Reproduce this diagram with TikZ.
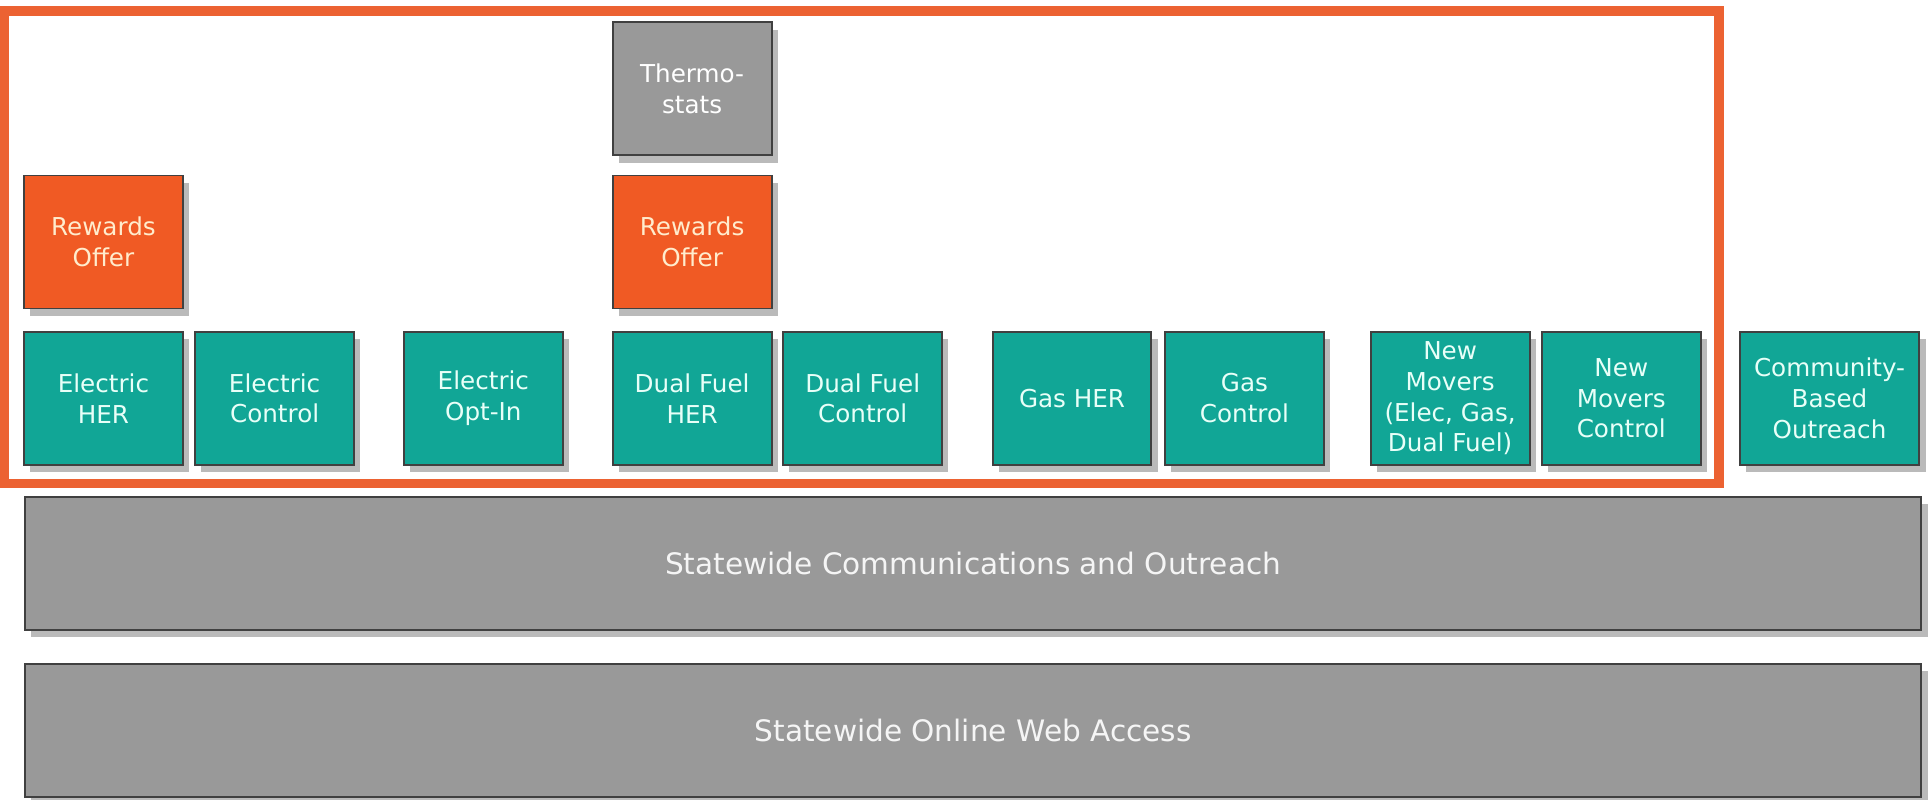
\documentclass[tikz,border=0pt]{standalone}
\usepackage{fontspec}
\setmainfont{DejaVu Sans}
\usetikzlibrary{shadows}
\definecolor{tealc}{RGB}{17,166,150}
\definecolor{rewardc}{RGB}{240,90,36}
\definecolor{framec}{RGB}{236,98,50}
\definecolor{grayc}{RGB}{153,153,153}
\definecolor{tealtext}{RGB}{232,255,248}
\definecolor{rewardtext}{RGB}{255,236,205}
\begin{document}
\begin{tikzpicture}[x=1pt,y=-1pt,
  box/.style={rectangle, draw=black!75, line width=1.6pt,
    minimum width=129pt, minimum height=108pt, inner sep=0pt,
    align=center, font=\fontsize{20}{25}\selectfont,
    drop shadow={shadow xshift=5pt, shadow yshift=-6pt, fill=black!27, opacity=1}},
  tealbox/.style={box, fill=tealc, text=tealtext},
  rewardbox/.style={box, fill=rewardc, text=rewardtext},
  thermobox/.style={box, fill=grayc, text=white},
  barbox/.style={box, fill=grayc, text=white!96!black, minimum width=1540pt,
    font=\fontsize{24}{29}\selectfont}]
\useasboundingbox (0,0) rectangle (1568,649);

% top row items
\node[thermobox] (thermo) at (562,72) {Thermo-\\stats};
\node[rewardbox] (rew1) at (84,196.5) {Rewards\\Offer};
\node[rewardbox] (rew2) at (562,196.5) {Rewards\\Offer};

% teal row
\node[tealbox] (eher) at (84,323.5) {Electric\\HER};
\node[tealbox] (ectl) at (223,323.5) {Electric\\Control};
\node[tealbox] (eopt) at (392.5,323.5) {Electric\\Opt-In};
\node[tealbox] (dher) at (562,323.5) {Dual Fuel\\HER};
\node[tealbox] (dctl) at (700.5,323.5) {Dual Fuel\\Control};
\node[tealbox] (gher) at (870.5,323.5) {Gas HER};
\node[tealbox] (gctl) at (1010.5,323.5) {Gas\\Control};
\node[tealbox] (nm) at (1177.5,323.5) {New\\Movers\\(Elec, Gas,\\Dual Fuel)};
\node[tealbox] (nmc) at (1316.5,323.5) {New\\Movers\\Control};
\node[tealbox, minimum width=146pt] (cbo) at (1485.6,323.5) {Community-\\Based\\Outreach};

% bars
\node[barbox] (comm) at (790.2,457.5) {Statewide Communications and Outreach};
\node[barbox] (web) at (790.2,593) {Statewide Online Web Access};

% orange highlight frame
\draw[framec, line width=7.5pt] (3.75,9) rectangle (1395.8,392.5);
\end{tikzpicture}
\end{document}
